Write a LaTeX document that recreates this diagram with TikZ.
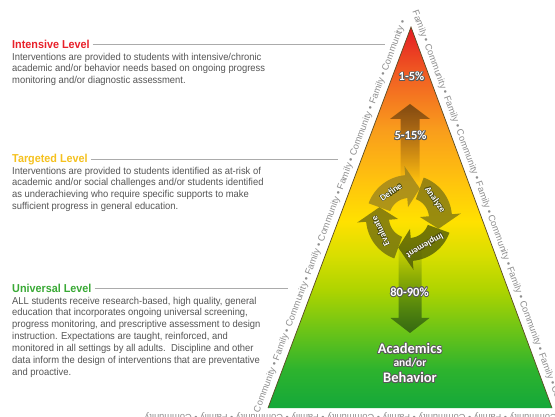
\documentclass[tikz,border=0pt]{standalone}
\usepackage{fontspec}
\usepackage{contour}
\usetikzlibrary{fadings}
\setmainfont{Liberation Sans}
\newfontfamily\bodyfont{Liberation Sans}[FakeStretch=0.94]
\newfontfamily\lblfont{Carlito}
\newfontfamily\edgefont{Liberation Sans}
\definecolor{g0}{HTML}{14A83A}
\definecolor{g1}{HTML}{2DB32E}
\definecolor{g2}{HTML}{6CC417}
\definecolor{g3}{HTML}{AED400}
\definecolor{g4}{HTML}{D8DE00}
\definecolor{g5}{HTML}{FFE100}
\definecolor{g6}{HTML}{FFC20E}
\definecolor{g7}{HTML}{F99D1C}
\definecolor{g8}{HTML}{F26522}
\definecolor{g9}{HTML}{E41B23}
\definecolor{intred}{HTML}{E8202A}
\definecolor{tgtgold}{HTML}{F5C11E}
\definecolor{unigreen}{HTML}{39A935}
\definecolor{bodygray}{HTML}{555555}
\definecolor{rulegray}{HTML}{ABABAB}
\definecolor{edgegray}{HTML}{8E8E8E}
\definecolor{edgeline}{HTML}{5A4A22}
\definecolor{upbrown}{HTML}{6E420E}
\definecolor{dngreen}{HTML}{2F5A10}
\definecolor{cdef}{HTML}{8E7A20}
\definecolor{cana}{HTML}{6E6A14}
\definecolor{cimp}{HTML}{3E4A08}
\definecolor{ceva}{HTML}{5E5E10}
\definecolor{shadowgray}{HTML}{5A5A5A}
\definecolor{cycshadow}{HTML}{4A4A10}
\pgfdeclareverticalshading{pyr}{100bp}{color(0bp)=(g0); color(25bp)=(g0); color(30bp)=(g1); color(35.2bp)=(g2); color(40.5bp)=(g3); color(45bp)=(g4); color(49.5bp)=(g5); color(55bp)=(g6); color(61.5bp)=(g7); color(68bp)=(g8); color(75bp)=(g9); color(100bp)=(g9)}
\def\cyX{409}
\def\cyY{218}
\newcommand{\cycarrow}[4]{%
  \fill[#4, fill opacity=0.7]
    plot[domain=#1:#2, samples=30] ({\cyX+43*cos(\x)},{\cyY-43*sin(\x)})
    -- ({\cyX+52*cos(#2)},{\cyY-52*sin(#2)})
    -- ({\cyX+31.5*cos(#3)},{\cyY-31.5*sin(#3)})
    -- ({\cyX+11*cos(#2)},{\cyY-11*sin(#2)})
    -- plot[domain=#2:#1, samples=30] ({\cyX+20*cos(\x)},{\cyY-20*sin(\x)})
    -- cycle;}
\begin{document}
\begin{tikzpicture}[x=1pt,y=-1pt,
  body/.style={font={\bodyfont\fontsize{10}{12}\selectfont}, text=bodygray, anchor=base west, inner sep=0pt},
  ttl/.style={font={\bodyfont\bfseries\fontsize{11.5}{13}\selectfont}, anchor=base west, inner sep=0pt},
  rule/.style={draw=rulegray, line width=0.9pt},
  edgetxt/.style={font={\edgefont\fontsize{9.3}{10}\selectfont}, text=edgegray, inner sep=0pt, anchor=base west},
  pct/.style={font={\lblfont\bfseries\fontsize{12.5}{14}\selectfont}, text=white, inner sep=0pt},
  bigl/.style={font={\lblfont\bfseries\fontsize{14.5}{16}\selectfont}, text=white, inner sep=0pt},
  smalll/.style={font={\lblfont\bfseries\fontsize{11.5}{13}\selectfont}, text=white, inner sep=0pt},
  cyc/.style={font={\lblfont\bfseries\fontsize{9}{10}\selectfont}, text=white, inner sep=0pt}]
\useasboundingbox (0,0) rectangle (555,416);
\clip (0,0) rectangle (555,416);
\fill[white] (0,0) rectangle (555,416);
% pyramid
\coordinate (ap) at (411,27);
\coordinate (bl) at (268,408);
\coordinate (br) at (552,408);
\shade[shading=pyr] (bl) -- (ap) -- (br) -- cycle;
\draw[edgeline, line width=0.7pt] (bl) -- (ap) -- (br);
% edge texts
\node[edgetxt, rotate=69.44] (eL) at (259.1,413.2) {Community • Family • Community • Family • Community • Family • Community • Family • Community •};
\node[edgetxt, rotate=-69.7] (eR) at (412.2,11.6) {Family • Community • Family • Community • Family • Community • Family • Community • Family • Community • Family};
\node[edgetxt, rotate=180] (eB) at (557,414) {Community • Family • Community • Family • Community • Family • Community • Family • Community};
% up and down arrows
\fill[upbrown, path fading=south, fill opacity=0.85] (410,104) -- (430,119) -- (419.5,119) -- (419.5,182) -- (400.5,182) -- (400.5,119) -- (390,119) -- cycle;
\fill[dngreen, path fading=north, fill opacity=0.85] (398.5,240) -- (421.5,240) -- (421.5,318) -- (429.5,318) -- (410,333) -- (390.5,318) -- (398.5,318) -- cycle;
% cycle
\cycarrow{160}{95}{70}{cdef}
\cycarrow{70}{5}{-20}{cana}
\cycarrow{-20}{-85}{-110}{cimp}
\cycarrow{-110}{-175}{-200}{ceva}
\contourlength{0.35pt}
\node[cyc, rotate=35] (cd) at ({\cyX+31.5*cos(125)},{\cyY-31.5*sin(125)}) {\contour{cycshadow}{Define}};
\node[cyc, rotate=-55] (ca) at ({\cyX+31.5*cos(35)},{\cyY-31.5*sin(35)}) {\contour{cycshadow}{Analyze}};
\node[cyc, rotate=-150] (ci) at ({\cyX+31.5*cos(-60)},{\cyY-31.5*sin(-60)}) {\contour{cycshadow}{Implement}};
\node[cyc, rotate=115] (ce) at ({\cyX+31.5*cos(-155)},{\cyY-31.5*sin(-155)}) {\contour{cycshadow}{Evaluate}};
% pyramid labels
\contourlength{0.7pt}
\node[pct] (p1) at (411.5,77) {\contour{shadowgray}{1-5\%}};
\node[pct] (p2) at (410.5,136) {\contour{shadowgray}{5-15\%}};
\node[pct] (p3) at (409.5,292.5) {\contour{shadowgray}{80-90\%}};
\node[bigl] (ac) at (410,349) {\contour{shadowgray}{Academics}};
\node[smalll] (ao) at (410,363) {\contour{shadowgray}{and/or}};
\node[bigl] (bh) at (410,378) {\contour{shadowgray}{Behavior}};
% left texts
\node[ttl, text=intred] (t1) at (12,48.5) {Intensive Level};
\coordinate (r1) at (385,44);
\draw[rule] ([xshift=3pt]t1.east) -- (t1.east -| r1);
\foreach \t [count=\i] in {{Interventions are provided to students with intensive/chronic},{academic and/or behavior needs based on ongoing progress},{monitoring and/or diagnostic assessment.}}
  \node[body] (int\i) at (12,{60+11.9*(\i-1)}) {\t};
\node[ttl, text=tgtgold] (t2) at (12,162) {Targeted Level};
\coordinate (r2) at (338,160);
\draw[rule] ([xshift=3pt]t2.east) -- (t2.east -| r2);
\foreach \t [count=\i] in {{Interventions are provided to students identified as at-risk of},{academic and/or social challenges and/or students identified},{as underachieving who require specific supports to make},{sufficient progress in general education.}}
  \node[body] (tgt\i) at (12,{174+11.9*(\i-1)}) {\t};
\node[ttl, text=unigreen] (t3) at (12,292.3) {Universal Level};
\coordinate (r3) at (288,288);
\draw[rule] ([xshift=3pt]t3.east) -- (t3.east -| r3);
\foreach \t [count=\i] in {{ALL students receive research-based, high quality, general},{education that incorporates ongoing universal screening,},{progress monitoring, and prescriptive assessment to design},{instruction. Expectations are taught, reinforced, and},{monitored in all settings by all adults.\ \ Discipline and other},{data inform the design of interventions that are preventative},{and proactive.}}
  \node[body] (uni\i) at (12,{304+11.9*(\i-1)}) {\t};
\end{tikzpicture}
\end{document}
